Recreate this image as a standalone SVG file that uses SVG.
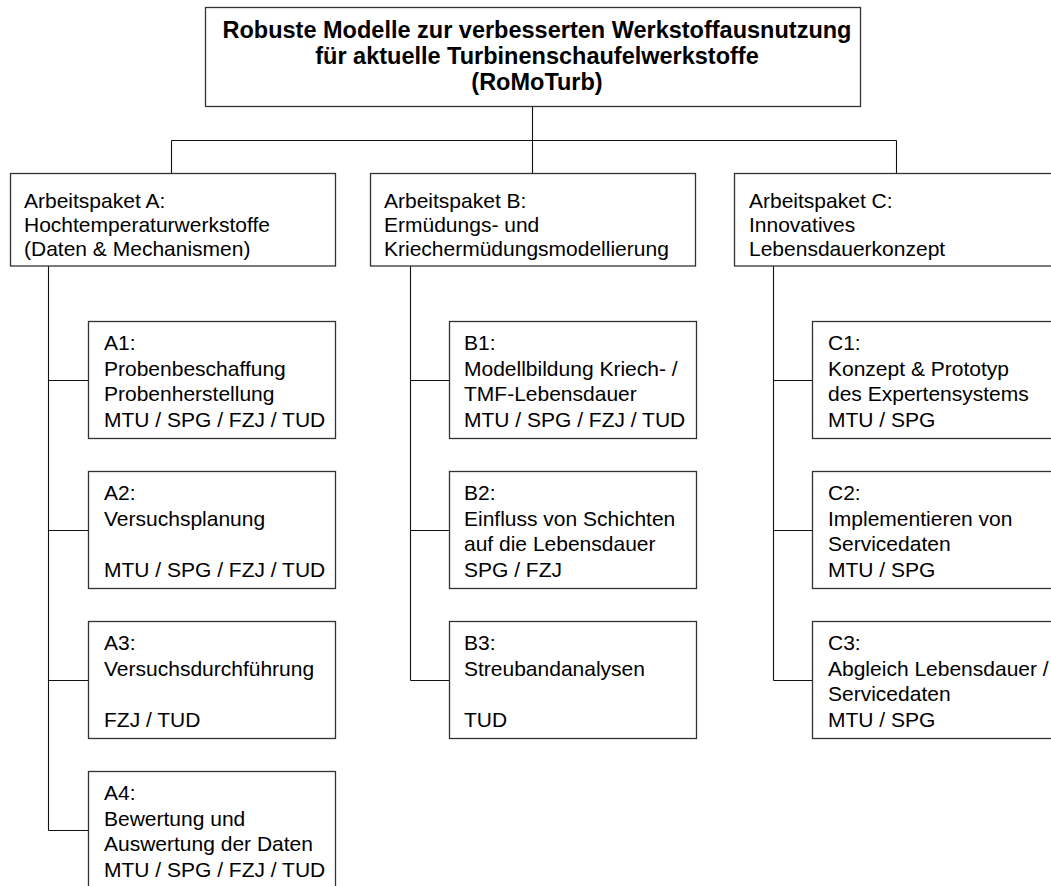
<svg xmlns="http://www.w3.org/2000/svg" width="1051" height="886" viewBox="0 0 1051 886">
<style>
  .box { fill: #ffffff; stroke: #333333; stroke-width: 1.3; }
  .conn { fill: none; stroke: #111111; stroke-width: 1.1; }
  .t { font-family: "Liberation Sans", Arial, Helvetica, sans-serif; font-size: 21px; fill: #000000; }
  .tb { font-family: "Liberation Sans", Arial, Helvetica, sans-serif; font-size: 23.5px; font-weight: bold; fill: #000000; text-anchor: middle; }
</style>
<rect width="1051" height="886" fill="#ffffff"/>
<g id="connectors">
  <path class="conn" d="M532.5 106.5 V173.5"/>
  <path class="conn" d="M171.5 140.5 H896.5"/>
  <path class="conn" d="M171.5 140.5 V173.5"/>
  <path class="conn" d="M896.5 140.5 V173.5"/>
  <path class="conn" d="M48.5 266 V830.5"/>
  <path class="conn" d="M48.5 380.5 H88.5 M48.5 530.5 H88.5 M48.5 680.5 H88.5 M48.5 830.5 H88.5"/>
  <path class="conn" d="M410.5 266 V680.5"/>
  <path class="conn" d="M410.5 380.5 H449.5 M410.5 530.5 H449.5 M410.5 680.5 H449.5"/>
  <path class="conn" d="M773.5 266 V680.5"/>
  <path class="conn" d="M773.5 380.5 H812.5 M773.5 530.5 H812.5 M773.5 680.5 H812.5"/>
</g>
<g id="root">
  <rect class="box" x="205.5" y="7.5" width="655" height="99"/>
  <text class="tb" x="537" y="38">Robuste Modelle zur verbesserten Werkstoffausnutzung</text>
  <text class="tb" x="537" y="64">für aktuelle Turbinenschaufelwerkstoffe</text>
  <text class="tb" x="537" y="90">(RoMoTurb)</text>
</g>
<g id="apA">
  <rect class="box" x="10.5" y="173.5" width="325" height="92.5"/>
  <text class="t" x="24" y="207.5">Arbeitspaket A:</text>
  <text class="t" x="24" y="231.5">Hochtemperaturwerkstoffe</text>
  <text class="t" x="24" y="255.5">(Daten &amp; Mechanismen)</text>
</g>
<g id="apB">
  <rect class="box" x="370.5" y="173.5" width="325" height="92.5"/>
  <text class="t" x="384" y="207.5">Arbeitspaket B:</text>
  <text class="t" x="384" y="231.5">Ermüdungs- und</text>
  <text class="t" x="384" y="255.5">Kriechermüdungsmodellierung</text>
</g>
<g id="apC">
  <rect class="box" x="734.5" y="173.5" width="330" height="92.5"/>
  <text class="t" x="749" y="207.5">Arbeitspaket C:</text>
  <text class="t" x="749" y="231.5">Innovatives</text>
  <text class="t" x="749" y="255.5">Lebensdauerkonzept</text>
</g>
<g id="A1">
  <rect class="box" x="88.5" y="321.5" width="247" height="117"/>
  <text class="t" x="104" y="350">A1:</text>
  <text class="t" x="104" y="375.5">Probenbeschaffung</text>
  <text class="t" x="104" y="401">Probenherstellung</text>
  <text class="t" x="104" y="426.5">MTU / SPG / FZJ / TUD</text>
</g>
<g id="A2">
  <rect class="box" x="88.5" y="471.5" width="247" height="117"/>
  <text class="t" x="104" y="500">A2:</text>
  <text class="t" x="104" y="525.5">Versuchsplanung</text>
  <text class="t" x="104" y="576.5">MTU / SPG / FZJ / TUD</text>
</g>
<g id="A3">
  <rect class="box" x="88.5" y="621.5" width="247" height="117"/>
  <text class="t" x="104" y="650">A3:</text>
  <text class="t" x="104" y="675.5">Versuchsdurchführung</text>
  <text class="t" x="104" y="726.5">FZJ / TUD</text>
</g>
<g id="A4">
  <rect class="box" x="88.5" y="771.5" width="247" height="117"/>
  <text class="t" x="104" y="800">A4:</text>
  <text class="t" x="104" y="825.5">Bewertung und</text>
  <text class="t" x="104" y="851">Auswertung der Daten</text>
  <text class="t" x="104" y="876.5">MTU / SPG / FZJ / TUD</text>
</g>
<g id="B1">
  <rect class="box" x="449.5" y="321.5" width="247" height="117"/>
  <text class="t" x="464" y="350">B1:</text>
  <text class="t" x="464" y="375.5">Modellbildung Kriech- /</text>
  <text class="t" x="464" y="401">TMF-Lebensdauer</text>
  <text class="t" x="464" y="426.5">MTU / SPG / FZJ / TUD</text>
</g>
<g id="B2">
  <rect class="box" x="449.5" y="471.5" width="247" height="117"/>
  <text class="t" x="464" y="500">B2:</text>
  <text class="t" x="464" y="525.5">Einfluss von Schichten</text>
  <text class="t" x="464" y="551">auf die Lebensdauer</text>
  <text class="t" x="464" y="576.5">SPG / FZJ</text>
</g>
<g id="B3">
  <rect class="box" x="449.5" y="621.5" width="247" height="117"/>
  <text class="t" x="464" y="650">B3:</text>
  <text class="t" x="464" y="675.5">Streubandanalysen</text>
  <text class="t" x="464" y="726.5">TUD</text>
</g>
<g id="C1">
  <rect class="box" x="812.5" y="321.5" width="250" height="117"/>
  <text class="t" x="828" y="350">C1:</text>
  <text class="t" x="828" y="375.5">Konzept &amp; Prototyp</text>
  <text class="t" x="828" y="401">des Expertensystems</text>
  <text class="t" x="828" y="426.5">MTU / SPG</text>
</g>
<g id="C2">
  <rect class="box" x="812.5" y="471.5" width="250" height="117"/>
  <text class="t" x="828" y="500">C2:</text>
  <text class="t" x="828" y="525.5">Implementieren von</text>
  <text class="t" x="828" y="551">Servicedaten</text>
  <text class="t" x="828" y="576.5">MTU / SPG</text>
</g>
<g id="C3">
  <rect class="box" x="812.5" y="621.5" width="250" height="117"/>
  <text class="t" x="828" y="650">C3:</text>
  <text class="t" x="828" y="675.5">Abgleich Lebensdauer /</text>
  <text class="t" x="828" y="701">Servicedaten</text>
  <text class="t" x="828" y="726.5">MTU / SPG</text>
</g>
</svg>
